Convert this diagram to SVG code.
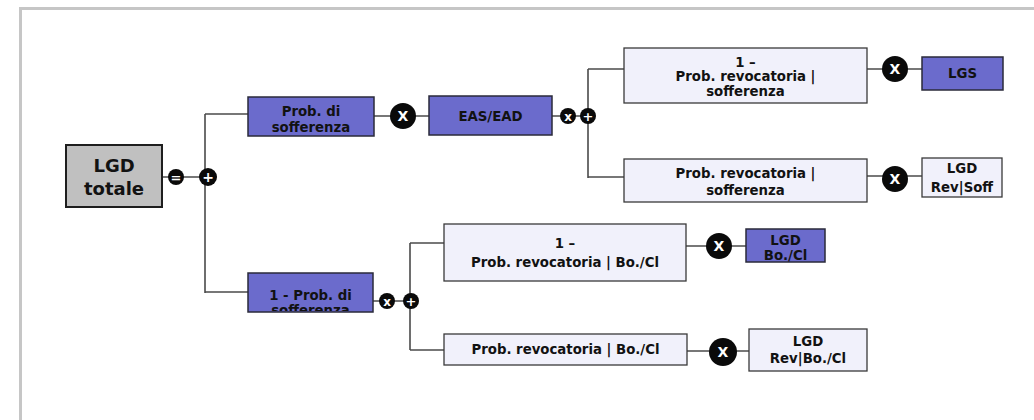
<svg xmlns="http://www.w3.org/2000/svg" width="1034" height="420" viewBox="0 0 1034 420">
  <style>
    .frame { fill: none; stroke: #c6c6c6; stroke-width: 3; }
    .wire { fill: none; stroke: #4a4a4a; stroke-width: 1.6; }
    .box-total { fill: #c0c0c0; stroke: #1e1e1e; stroke-width: 2; }
    .box-dark { fill: #6b6bcc; stroke: #2a2a3a; stroke-width: 1.5; }
    .box-light { fill: #f1f1fb; stroke: #3a3a3a; stroke-width: 1.3; }
    .lbl { font-family: "DejaVu Sans", "Liberation Sans", sans-serif; font-weight: bold; font-size: 13.3px; fill: #121212; text-anchor: middle; }
    .lbl-big { font-size: 18px; }
    .op { fill: #0a0a0a; }
    .op-txt { font-family: "DejaVu Sans", "Liberation Sans", sans-serif; font-weight: bold; fill: #ffffff; text-anchor: middle; }
  </style>
  <defs>
    <clipPath id="clip-bottom-prob">
      <rect x="249" y="274" width="124" height="37"/>
    </clipPath>
  </defs>

  <rect width="1034" height="420" fill="#ffffff"/>
  <path class="frame" d="M20.5 420 V8.5 H1034"/>

  <g id="connectors">
    <path class="wire" d="M162 177 H208"/>
    <path class="wire" d="M205 114 V293"/>
    <path class="wire" d="M205 114 H248"/>
    <path class="wire" d="M205 292 H248"/>
    <path class="wire" d="M374 116 H429"/>
    <path class="wire" d="M552 116 H588"/>
    <path class="wire" d="M588 69 V178"/>
    <path class="wire" d="M588 69 H624"/>
    <path class="wire" d="M588 177 H624"/>
    <path class="wire" d="M867 69 H922"/>
    <path class="wire" d="M867 176 H922"/>
    <path class="wire" d="M373 301 H411"/>
    <path class="wire" d="M410 243 V350"/>
    <path class="wire" d="M410 243 H444"/>
    <path class="wire" d="M410 350 H444"/>
    <path class="wire" d="M686 246 H746"/>
    <path class="wire" d="M687 351 H749"/>
  </g>

  <g id="node-lgd-totale">
    <rect class="box-total" x="66" y="145" width="96" height="62"/>
    <text class="lbl lbl-big" x="114" y="172">LGD</text>
    <text class="lbl lbl-big" x="114" y="195">totale</text>
  </g>
  <g id="op-equals">
    <circle class="op" cx="176" cy="177" r="8"/>
    <text class="op-txt" x="176" y="182" font-size="13">=</text>
  </g>
  <g id="op-plus-root">
    <circle class="op" cx="208" cy="177" r="9"/>
    <text class="op-txt" x="208" y="182" font-size="14">+</text>
  </g>

  <g id="node-prob-soff">
    <rect class="box-dark" x="248" y="97" width="126" height="39"/>
    <text class="lbl" x="311" y="116">Prob. di</text>
    <text class="lbl" x="311" y="132">sofferenza</text>
  </g>
  <g id="op-times-1">
    <circle class="op" cx="403" cy="116" r="13"/>
    <text class="op-txt" x="403" y="121" font-size="14">X</text>
  </g>
  <g id="node-eas-ead">
    <rect class="box-dark" x="429" y="96" width="123" height="39"/>
    <text class="lbl" x="490.5" y="121">EAS/EAD</text>
  </g>
  <g id="op-times-2">
    <circle class="op" cx="568" cy="116" r="8"/>
    <text class="op-txt" x="568" y="120.5" font-size="12">x</text>
  </g>
  <g id="op-plus-2">
    <circle class="op" cx="588" cy="116" r="8"/>
    <text class="op-txt" x="588" y="120.5" font-size="13">+</text>
  </g>

  <g id="node-one-minus-rev-soff">
    <rect class="box-light" x="624" y="48" width="243" height="55"/>
    <text class="lbl" x="745.5" y="67">1 –</text>
    <text class="lbl" x="745.5" y="81">Prob. revocatoria |</text>
    <text class="lbl" x="745.5" y="96">sofferenza</text>
  </g>
  <g id="op-times-3">
    <circle class="op" cx="895" cy="69" r="13"/>
    <text class="op-txt" x="895" y="74" font-size="14">X</text>
  </g>
  <g id="node-lgs">
    <rect class="box-dark" x="922" y="57" width="81" height="33"/>
    <text class="lbl" x="962.5" y="78">LGS</text>
  </g>

  <g id="node-rev-soff">
    <rect class="box-light" x="624" y="159" width="243" height="43"/>
    <text class="lbl" x="745.5" y="178">Prob. revocatoria |</text>
    <text class="lbl" x="745.5" y="195">sofferenza</text>
  </g>
  <g id="op-times-4">
    <circle class="op" cx="895" cy="179" r="13"/>
    <text class="op-txt" x="895" y="184" font-size="14">X</text>
  </g>
  <g id="node-lgd-rev-soff">
    <rect class="box-light" x="922" y="158" width="80" height="39"/>
    <text class="lbl" x="962" y="173">LGD</text>
    <text class="lbl" x="962" y="192">Rev|Soff</text>
  </g>

  <g id="node-one-minus-prob-soff">
    <rect class="box-dark" x="248" y="273" width="125" height="39"/>
    <g clip-path="url(#clip-bottom-prob)">
      <text class="lbl" x="310.5" y="300">1 - Prob. di</text>
      <text class="lbl" x="310.5" y="315">sofferenza</text>
    </g>
  </g>
  <g id="op-times-5">
    <circle class="op" cx="387" cy="301" r="8"/>
    <text class="op-txt" x="387" y="305.5" font-size="12">x</text>
  </g>
  <g id="op-plus-3">
    <circle class="op" cx="411" cy="301" r="8"/>
    <text class="op-txt" x="411" y="305.5" font-size="13">+</text>
  </g>

  <g id="node-one-minus-rev-bocl">
    <rect class="box-light" x="444" y="224" width="242" height="57"/>
    <text class="lbl" x="565" y="248">1 –</text>
    <text class="lbl" x="565" y="267">Prob. revocatoria | Bo./Cl</text>
  </g>
  <g id="op-times-6">
    <circle class="op" cx="719" cy="246" r="13"/>
    <text class="op-txt" x="719" y="251" font-size="14">X</text>
  </g>
  <g id="node-lgd-bocl">
    <rect class="box-dark" x="746" y="229" width="79" height="33"/>
    <text class="lbl" x="785.5" y="245">LGD</text>
    <text class="lbl" x="785.5" y="260">Bo./Cl</text>
  </g>

  <g id="node-rev-bocl">
    <rect class="box-light" x="444" y="334" width="243" height="31"/>
    <text class="lbl" x="565.5" y="354">Prob. revocatoria | Bo./Cl</text>
  </g>
  <g id="op-times-7">
    <circle class="op" cx="723" cy="352" r="14"/>
    <text class="op-txt" x="723" y="357" font-size="14">X</text>
  </g>
  <g id="node-lgd-rev-bocl">
    <rect class="box-light" x="749" y="329" width="118" height="42"/>
    <text class="lbl" x="808" y="346">LGD</text>
    <text class="lbl" x="808" y="363">Rev|Bo./Cl</text>
  </g>
</svg>
